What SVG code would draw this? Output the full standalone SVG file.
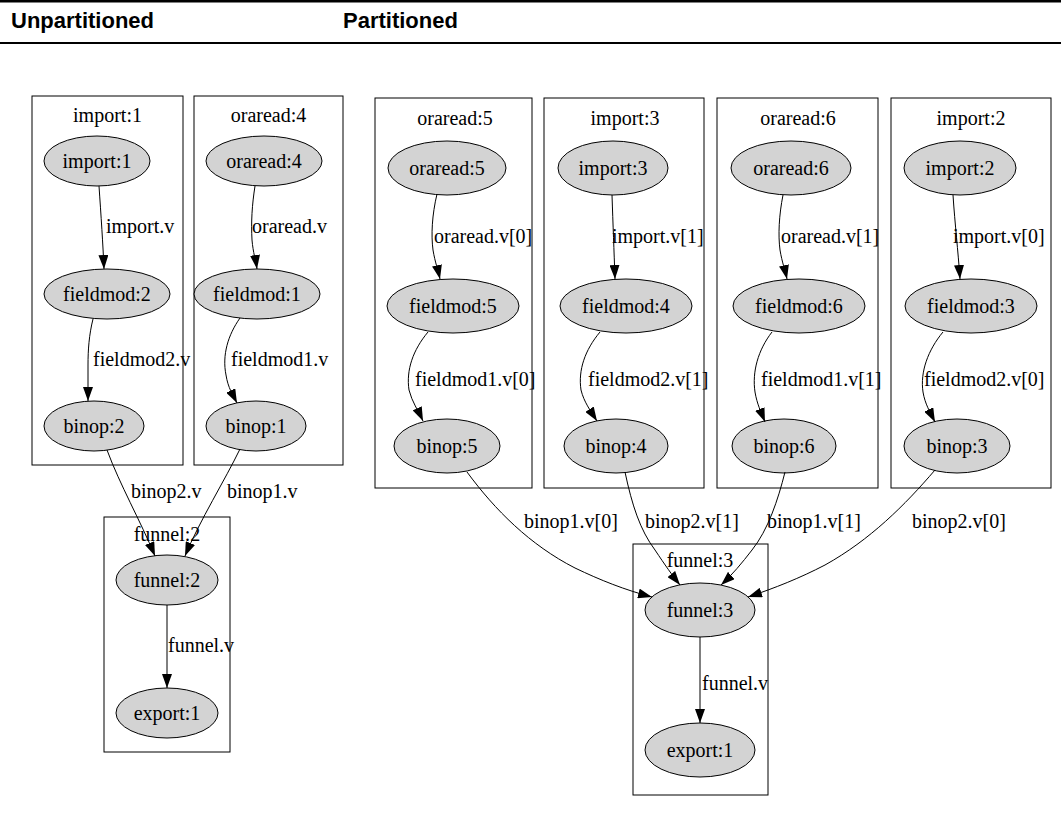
<svg xmlns="http://www.w3.org/2000/svg" width="1061" height="819" viewBox="0 0 1061 819">
<style>
.hdr{font-family:"Liberation Sans",Arial,sans-serif;font-weight:bold;font-size:22px;fill:#000}
.t{font-family:"Liberation Serif","Times New Roman",serif;font-size:20px;fill:#000}
.c{text-anchor:middle}
.cl{fill:none;stroke:#000;stroke-width:1}
.n{fill:#d3d3d3;stroke:#000;stroke-width:1}
.e{fill:none;stroke:#000;stroke-width:1;marker-end:url(#ah)}
</style>
<defs>
<marker id="ah" markerWidth="14" markerHeight="10" refX="14" refY="5" orient="auto" markerUnits="userSpaceOnUse">
<path d="M0,0 L14,5 L0,10 z" fill="#000"/>
</marker>
</defs>
<rect width="1061" height="819" fill="#fff"/>
<g id="header">
<rect x="0" y="0" width="1061" height="2.5" fill="#000"/>
<rect x="0" y="42" width="1061" height="2" fill="#000"/>
<text class="hdr" x="11" y="28">Unpartitioned</text>
<text class="hdr" x="343" y="28">Partitioned</text>
</g>

<!-- Left graph clusters -->
<g id="cluster-import1">
<rect class="cl" x="32" y="96" width="151" height="369"/>
<text class="t c" x="107.5" y="122">import:1</text>
<g id="n-import1"><ellipse class="n" cx="97" cy="161" rx="53" ry="25"/><text class="t c" x="97" y="168">import:1</text></g>
<g id="n-fieldmod2"><ellipse class="n" cx="107" cy="294" rx="63" ry="25"/><text class="t c" x="107" y="301">fieldmod:2</text></g>
<g id="n-binop2"><ellipse class="n" cx="94" cy="426" rx="50" ry="25"/><text class="t c" x="94" y="433">binop:2</text></g>
</g>
<g id="cluster-oraread4">
<rect class="cl" x="194" y="96" width="149" height="369"/>
<text class="t c" x="268.5" y="122">oraread:4</text>
<g id="n-oraread4"><ellipse class="n" cx="264" cy="161" rx="58" ry="25"/><text class="t c" x="264" y="168">oraread:4</text></g>
<g id="n-fieldmod1"><ellipse class="n" cx="257" cy="294" rx="63" ry="25"/><text class="t c" x="257" y="301">fieldmod:1</text></g>
<g id="n-binop1"><ellipse class="n" cx="256" cy="426" rx="50" ry="25"/><text class="t c" x="256" y="433">binop:1</text></g>
</g>
<g id="cluster-funnel2">
<rect class="cl" x="104" y="517" width="126" height="235"/>
<text class="t c" x="167" y="541">funnel:2</text>
<g id="n-funnel2"><ellipse class="n" cx="167" cy="580" rx="51" ry="25"/><text class="t c" x="167" y="587">funnel:2</text></g>
<g id="n-export1a"><ellipse class="n" cx="167" cy="713" rx="51" ry="25"/><text class="t c" x="167" y="720">export:1</text></g>
</g>

<!-- Right graph clusters -->
<g id="cluster-oraread5">
<rect class="cl" x="375" y="98" width="157" height="390"/>
<text class="t c" x="455" y="125">oraread:5</text>
<g id="n-oraread5"><ellipse class="n" cx="447" cy="168" rx="59" ry="27"/><text class="t c" x="447" y="175">oraread:5</text></g>
<g id="n-fieldmod5"><ellipse class="n" cx="453" cy="306" rx="66" ry="27"/><text class="t c" x="453" y="313">fieldmod:5</text></g>
<g id="n-binop5"><ellipse class="n" cx="447" cy="446" rx="53" ry="27"/><text class="t c" x="447" y="453">binop:5</text></g>
</g>
<g id="cluster-import3">
<rect class="cl" x="544" y="98" width="160" height="390"/>
<text class="t c" x="625" y="125">import:3</text>
<g id="n-import3"><ellipse class="n" cx="613" cy="168" rx="55" ry="27"/><text class="t c" x="613" y="175">import:3</text></g>
<g id="n-fieldmod4"><ellipse class="n" cx="626" cy="306" rx="66" ry="27"/><text class="t c" x="626" y="313">fieldmod:4</text></g>
<g id="n-binop4"><ellipse class="n" cx="616" cy="446" rx="52" ry="27"/><text class="t c" x="616" y="453">binop:4</text></g>
</g>
<g id="cluster-oraread6">
<rect class="cl" x="717" y="98" width="161" height="390"/>
<text class="t c" x="798" y="125">oraread:6</text>
<g id="n-oraread6"><ellipse class="n" cx="791" cy="168" rx="60" ry="27"/><text class="t c" x="791" y="175">oraread:6</text></g>
<g id="n-fieldmod6"><ellipse class="n" cx="799" cy="306" rx="66" ry="27"/><text class="t c" x="799" y="313">fieldmod:6</text></g>
<g id="n-binop6"><ellipse class="n" cx="784" cy="446" rx="52" ry="27"/><text class="t c" x="784" y="453">binop:6</text></g>
</g>
<g id="cluster-import2">
<rect class="cl" x="891" y="98" width="160" height="390"/>
<text class="t c" x="971" y="125">import:2</text>
<g id="n-import2"><ellipse class="n" cx="960" cy="168" rx="56" ry="27"/><text class="t c" x="960" y="175">import:2</text></g>
<g id="n-fieldmod3"><ellipse class="n" cx="971" cy="306" rx="66" ry="27"/><text class="t c" x="971" y="313">fieldmod:3</text></g>
<g id="n-binop3"><ellipse class="n" cx="957" cy="446" rx="53" ry="27"/><text class="t c" x="957" y="453">binop:3</text></g>
</g>
<g id="cluster-funnel3">
<rect class="cl" x="633" y="544" width="135" height="251"/>
<text class="t c" x="700" y="567">funnel:3</text>
<g id="n-funnel3"><ellipse class="n" cx="700" cy="610" rx="55" ry="27"/><text class="t c" x="700" y="617">funnel:3</text></g>
<g id="n-export1b"><ellipse class="n" cx="700" cy="750" rx="55" ry="27"/><text class="t c" x="700" y="757">export:1</text></g>
</g>

<g id="connectors">
<!-- left -->
<path class="e" d="M99,186 C101,215 103,245 104,269"/>
<path class="e" d="M93,319 C89,335 88,350 88,365 L88,401"/>
<path class="e" d="M255,186 C252,205 251,222 252,240 C253,252 256,262 257,269"/>
<path class="e" d="M240,318 C228,335 222,355 226,375 C228,388 233,395 237,403"/>
<path class="e" d="M107,450 C120,485 140,520 155,556"/>
<path class="e" d="M240,449 C225,480 200,520 185,556"/>
<path class="e" d="M167,605 L167,688"/>
<!-- right -->
<path class="e" d="M437,194 C432,215 431,235 433,250 C435,262 438,270 440,279"/>
<path class="e" d="M612,195 C613,225 614,250 615,279"/>
<path class="e" d="M783,195 C779,215 778,235 780,250 C782,262 785,270 787,279"/>
<path class="e" d="M953,195 C955,225 958,250 960,279"/>
<path class="e" d="M428,332 C413,350 406,370 409,390 C412,402 418,410 423,421"/>
<path class="e" d="M600,332 C585,350 578,370 581,390 C584,402 590,410 597,421"/>
<path class="e" d="M772,332 C758,350 752,372 755,392 C757,404 761,412 765,422"/>
<path class="e" d="M943,332 C928,350 920,372 923,392 C925,404 930,412 935,422"/>
<path class="e" d="M467,472 C495,510 530,545 575,568 C600,580 625,590 652,597"/>
<path class="e" d="M625,472 C632,505 640,530 655,550 C665,565 672,575 680,585"/>
<path class="e" d="M785,472 C778,500 768,530 752,550 C742,563 732,575 721,585"/>
<path class="e" d="M935,470 C905,505 870,540 825,565 C800,578 775,588 748,597"/>
<path class="e" d="M700,637 L700,723"/>
<!-- labels -->
<text class="t" x="106" y="233">import.v</text>
<text class="t" x="93" y="366">fieldmod2.v</text>
<text class="t" x="252" y="233">oraread.v</text>
<text class="t" x="231" y="366">fieldmod1.v</text>
<text class="t" x="131" y="498">binop2.v</text>
<text class="t" x="227" y="498">binop1.v</text>
<text class="t" x="168" y="652">funnel.v</text>
<text class="t" x="434" y="243">oraread.v[0]</text>
<text class="t" x="612" y="243">import.v[1]</text>
<text class="t" x="781" y="243">oraread.v[1]</text>
<text class="t" x="953" y="243">import.v[0]</text>
<text class="t" x="415" y="386">fieldmod1.v[0]</text>
<text class="t" x="588" y="386">fieldmod2.v[1]</text>
<text class="t" x="761" y="386">fieldmod1.v[1]</text>
<text class="t" x="924" y="386">fieldmod2.v[0]</text>
<text class="t" x="524" y="528">binop1.v[0]</text>
<text class="t" x="645" y="528">binop2.v[1]</text>
<text class="t" x="767" y="528">binop1.v[1]</text>
<text class="t" x="912" y="528">binop2.v[0]</text>
<text class="t" x="702" y="690">funnel.v</text>
</g>
</svg>
